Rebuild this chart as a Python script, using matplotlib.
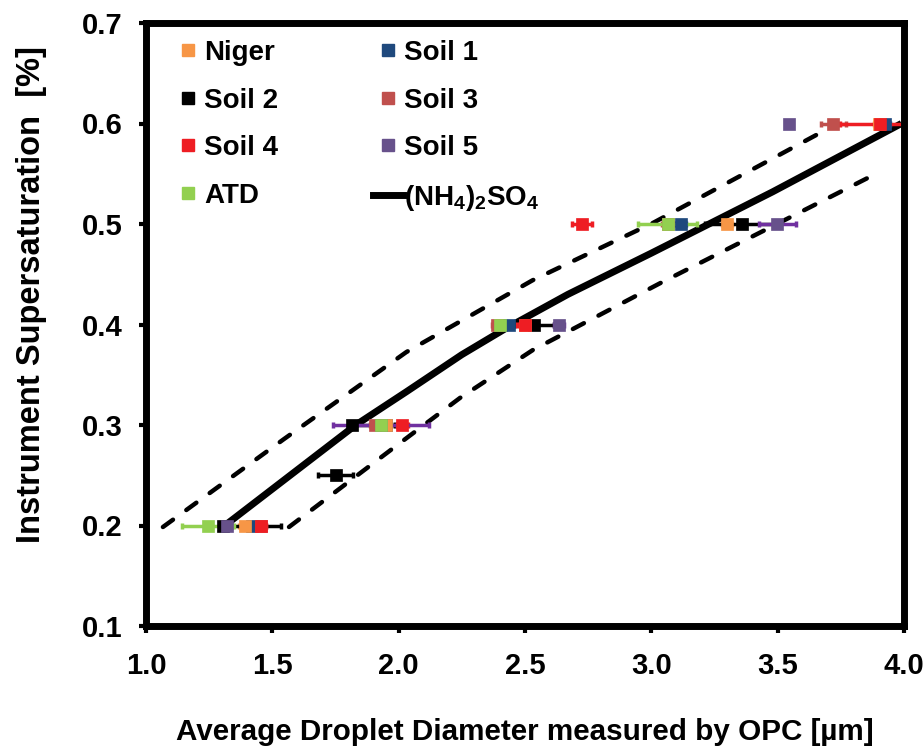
import matplotlib
matplotlib.use('Agg')
import matplotlib.pyplot as plt
from matplotlib.lines import Line2D

# ----------------------------------------------------------------------------------------------------------------------
#  DATA
# ----------------------------------------------------------------------------------------------------------------------

series_names  = ['Niger', 'Soil 1', 'Soil 2', 'Soil 3', 'Soil 4', 'Soil 5', 'ATD']
series_colors = ['#F79646', '#1F497D', '#000000', '#C0504D', '#EE1D23', '#67518B', '#92D050']
error_colors  = ['#F79646', '#1F497D', '#000000', '#C0504D', '#EE1D23', '#7030A0', '#92D050']

niger_x  = [1.39, 1.95, 2.50, 3.30, 3.90]
niger_y  = [0.2, 0.3, 0.4, 0.5, 0.6]
niger_lo = [0.02, 0.02, 0.02, 0.02, 0.02]
niger_hi = [0.02, 0.02, 0.02, 0.02, 0.02]

soil1_x  = [1.418, 1.95, 2.435, 3.117, 3.925]
soil1_y  = [0.2, 0.3, 0.4, 0.5, 0.6]
soil1_lo = [0.02, 0.02, 0.02, 0.02, 0.02]
soil1_hi = [0.02, 0.02, 0.02, 0.02, 0.02]

soil2_x  = [1.305, 1.75, 1.815, 2.535, 3.36]
soil2_y  = [0.2, 0.25, 0.3, 0.4, 0.5]
soil2_lo = [0.0, 0.069, 0.0, 0.08, 0.146]
soil2_hi = [0.23, 0.069, 0.17, 0.08, 0.146]

soil3_x  = [1.455, 1.905, 2.39, 3.064, 3.72]
soil3_y  = [0.2, 0.3, 0.4, 0.5, 0.6]
soil3_lo = [0.02, 0.02, 0.02, 0.02, 0.05]
soil3_hi = [0.02, 0.02, 0.02, 0.02, 0.05]

soil4_x  = [1.455, 2.015, 2.50, 2.725, 3.905]
soil4_y  = [0.2, 0.3, 0.4, 0.5, 0.6]
soil4_lo = [0.02, 0.02, 0.03, 0.04, 0.157]
soil4_hi = [0.02, 0.02, 0.03, 0.04, 0.157]

soil5_x  = [1.321, 1.93, 2.635, 3.499, 3.545]
soil5_y  = [0.2, 0.3, 0.4, 0.5, 0.6]
soil5_lo = [0.02, 0.19, 0.02, 0.073, 0.0]
soil5_hi = [0.02, 0.19, 0.02, 0.073, 0.0]

atd_x  = [1.244, 1.932, 2.40, 3.064]
atd_y  = [0.2, 0.3, 0.4, 0.5]
atd_lo = [0.103, 0.02, 0.02, 0.117]
atd_hi = [0.103, 0.02, 0.02, 0.117]

# (NH4)2SO4 calibration curve and its bounds
amm_x = [1.325, 1.83, 2.03, 2.25, 2.42, 2.67, 3.00, 3.48, 3.99]
amm_y = [0.2025, 0.300, 0.333, 0.370, 0.3955, 0.430, 0.471, 0.532, 0.600]

upper_x = [1.067, 1.546, 2.03, 2.53, 3.006, 3.667, 3.72]
upper_y = [0.1985, 0.286, 0.3725, 0.444, 0.501, 0.5905, 0.598]

lower_x = [1.566, 1.989, 2.243, 2.531, 3.034, 3.905]
lower_y = [0.1985, 0.279, 0.327, 0.3746, 0.441, 0.552]

x_ticks = [1.0, 1.5, 2.0, 2.5, 3.0, 3.5, 4.0]
y_ticks = [0.1, 0.2, 0.3, 0.4, 0.5, 0.6, 0.7]

# ----------------------------------------------------------------------------------------------------------------------
#  PLOT
# ----------------------------------------------------------------------------------------------------------------------

plt.rcParams['font.family'] = ['Liberation Sans', 'DejaVu Sans']
plt.rcParams['font.weight'] = 'bold'
plt.rcParams['mathtext.fontset'] = 'custom'
plt.rcParams['mathtext.rm'] = 'Liberation Sans:bold'
plt.rcParams['mathtext.bf'] = 'Liberation Sans:bold'
plt.rcParams['mathtext.it'] = 'Liberation Sans:bold'

fig = plt.figure(figsize=(9.24, 7.5), dpi=100)
ax  = fig.add_axes([146 / 924, 1 - 626 / 750, 758 / 924, 603 / 750])

xs  = [niger_x, soil1_x, soil2_x, soil3_x, soil4_x, soil5_x, atd_x]
ys  = [niger_y, soil1_y, soil2_y, soil3_y, soil4_y, soil5_y, atd_y]
los = [niger_lo, soil1_lo, soil2_lo, soil3_lo, soil4_lo, soil5_lo, atd_lo]
his = [niger_hi, soil1_hi, soil2_hi, soil3_hi, soil4_hi, soil5_hi, atd_hi]

# stacking of the squares as seen in the picture
marker_z = {'Soil 1': 3.0, 'Soil 2': 3.1, 'Niger': 3.2, 'Soil 3': 3.3, 'Soil 4': 3.4, 'Soil 5': 3.5, 'ATD': 3.6}

# curves first
dash = (0, (2.8, 3.7))
ax.plot(upper_x, upper_y, color='black', linewidth=3.2, linestyle=dash, dash_capstyle='round', zorder=1.5)
ax.plot(lower_x, lower_y, color='black', linewidth=3.2, linestyle=dash, dash_capstyle='round', zorder=1.5)
ax.plot(amm_x, amm_y, color='black', linewidth=5, solid_capstyle='butt', solid_joinstyle='round', zorder=1.6)

for i in range(len(series_names)):
    ax.errorbar(xs[i], ys[i], xerr=[los[i], his[i]], fmt='none', ecolor=error_colors[i],
                elinewidth=2.5, capsize=2.5, capthick=2.5, zorder=2)
    ax.plot(xs[i], ys[i], linestyle='none', marker='s', markersize=8, color=series_colors[i],
            markeredgecolor=series_colors[i], markeredgewidth=0.5, zorder=marker_z[series_names[i]])

ax.set_xlim(1.0, 4.0)
ax.set_ylim(0.1, 0.7)
ax.set_xticks(x_ticks)
ax.set_xticklabels(['%.1f' % v for v in x_ticks])
ax.set_yticks(y_ticks)
ax.set_yticklabels(['%.1f' % v for v in y_ticks])
ax.tick_params(direction='out', length=5, width=3, labelsize=21)
ax.tick_params(axis='x', pad=14)
ax.tick_params(axis='y', pad=12)
for s in ax.spines.values():
    s.set_linewidth(5)

ax.set_xlabel('Average Droplet Diameter measured by OPC [µm]', fontsize=21.3, fontweight='bold')
ax.set_ylabel('Instrument Supersaturation  [%]', fontsize=23.5, fontweight='bold')
ax.xaxis.set_label_coords(0.5, -0.152)
ax.yaxis.set_label_coords(-0.131, 0.549)

# legend: squares for the samples, a thick line for ammonium sulphate
handles = [Line2D([], [], linestyle='none', marker='s', markersize=8, color=c) for c in series_colors]
handles.append(Line2D([], [], color='black', linewidth=5))
labels = series_names + [r'(NH$_4$)$_2$SO$_4$']
order = [0, 2, 4, 6, 1, 3, 5, 7]
leg = ax.legend([handles[k] for k in order], [labels[k] for k in order], ncol=2, loc='upper left',
                bbox_to_anchor=(0.035, 0.972), frameon=False, fontsize=20, handlelength=1.1,
                handletextpad=0.04, columnspacing=3.4, labelspacing=0.78, borderpad=0, borderaxespad=0)

fig.savefig('out.png', dpi=100)
